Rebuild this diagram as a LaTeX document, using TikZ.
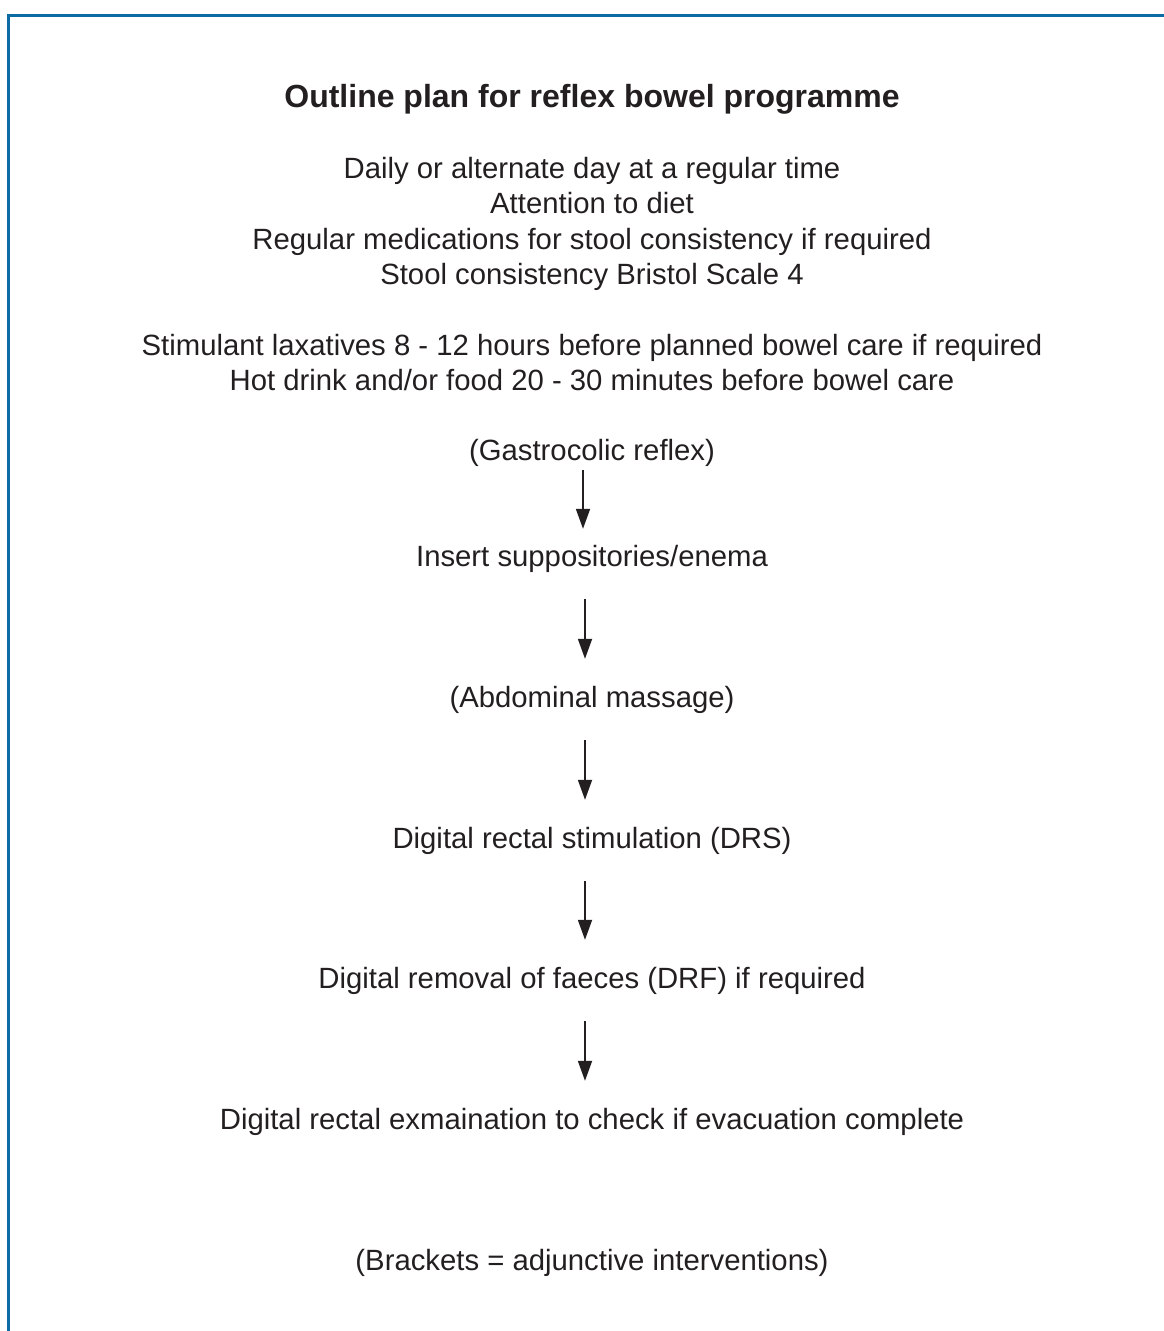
\documentclass[tikz,border=0pt]{standalone}
\usepackage{fontspec}
\setmainfont{Liberation Sans}
\usetikzlibrary{positioning,calc,arrows.meta}
\definecolor{framebl}{RGB}{12,106,164}
\definecolor{inkblk}{RGB}{35,31,32}
\tikzset{font=\fontsize{29.3}{34}\selectfont}

\begin{document}
\begin{tikzpicture}[x=1pt,y=-1pt]
	\useasboundingbox (0,0) rectangle (1163,1331);
	\draw [framebl, line width=3pt] (8.5,1340) |- (1170,15);
	\begin{scope}[inkblk]
		\tikzstyle{every node}=[align=center, inner sep=0pt, anchor=base, text height=21pt, text depth=6pt, text=inkblk]
		\tikzstyle{flow}=[line width=1.8pt, -{Triangle[length=20pt,width=14pt]}, shorten <=27pt, shorten >=27pt]
		\coordinate (ax) at (585,0);

		\node[font=\fontsize{32}{36}\selectfont\bfseries] (title) at (592, 107) {Outline plan for reflex bowel programme};

		\node (daily) at (592, 178) {Daily or alternate day at a regular time};
		\node (diet) at (592, 213.5) {Attention to diet};
		\node (meds) at (592, 249) {Regular medications for stool consistency if required};
		\node (bristol) at (592, 284) {Stool consistency Bristol Scale 4};

		\node (lax) at (592, 355) {Stimulant laxatives 8 - 12 hours before planned bowel care if required};
		\node (drink) at (592, 390) {Hot drink and/or food 20 - 30 minutes before bowel care};

		\node (gastro) at (592, 460) {(Gastrocolic reflex)};
		\node (insert) at (592, 566) {Insert suppositories/enema};
		\node (massage) at (592, 707) {(Abdominal massage)};
		\node (drs) at (592, 848) {Digital rectal stimulation (DRS)};
		\node (drf) at (592, 988) {Digital removal of faeces (DRF) if required};
		\node (exam) at (592, 1129) {Digital rectal exmaination to check if evacuation complete};

		\node (note) at (592, 1270) {(Brackets = adjunctive interventions)};

		\draw [flow, shorten <=4pt, shorten >=16pt] ($(gastro.south -| ax)+(-2,0)$) -- ($(insert.north -| ax)+(-2,0)$);
		\draw [flow] (insert.south -| ax) -- (massage.north -| ax);
		\draw [flow] (massage.south -| ax) -- (drs.north -| ax);
		\draw [flow] (drs.south -| ax) -- (drf.north -| ax);
		\draw [flow] (drf.south -| ax) -- (exam.north -| ax);
	\end{scope}
\end{tikzpicture}
\end{document}
